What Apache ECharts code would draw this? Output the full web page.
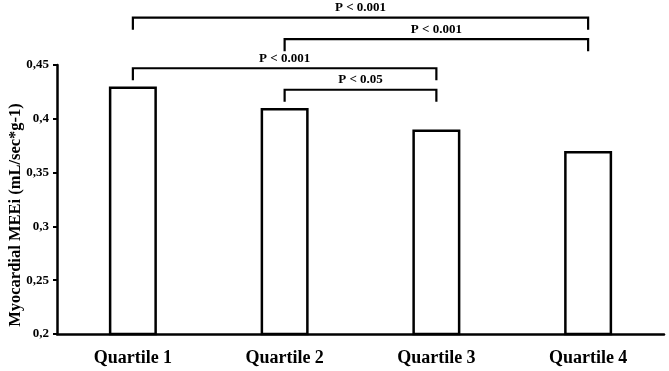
<!DOCTYPE html>
<html><head><meta charset="utf-8">
<script src="https://cdn.jsdelivr.net/npm/echarts@6/dist/echarts.min.js"></script>
<style>html,body{margin:0;padding:0;background:#fff}#c{width:669px;height:371px}</style>
</head><body><div id="c"></div>
<script>
const categories = ['Quartile 1', 'Quartile 2', 'Quartile 3', 'Quartile 4'];
const values = [0.43, 0.41, 0.39, 0.37];
const yTicks = [0.2, 0.25, 0.3, 0.35, 0.4, 0.45];
const bracketFrom = [0, 1, 0, 1];
const bracketTo = [3, 3, 2, 2];
const bracketLevel = [0.494, 0.474, 0.447, 0.427];
const bracketLabel = ['P < 0.001', 'P < 0.001', 'P < 0.001', 'P < 0.05'];

const brackets = bracketFrom.map((f, i) => [f, bracketTo[i], bracketLevel[i], i]);
const font = '"Liberation Serif", "Times New Roman", serif';

const chart = echarts.init(document.getElementById('c'), null, {renderer: 'canvas'});
chart.setOption({
  animation: false,
  backgroundColor: '#fff',
  grid: {left: 57, right: 5, top: 65, bottom: 37, containLabel: false, outerBoundsMode: 'none'},
  xAxis: {
    type: 'category', data: categories,
    axisLine: {lineStyle: {color: '#000', width: 2.5}},
    axisTick: {show: false},
    axisLabel: {color: '#000', fontFamily: font, fontWeight: 'bold', fontSize: 18, margin: 15}
  },
  yAxis: {
    type: 'value', min: 0.2, max: 0.45, interval: 0.05,
    name: 'Myocardial MEEi (mL/sec*g-1)', nameLocation: 'middle', nameGap: 33, nameMoveOverlap: false,
    nameTextStyle: {color: '#000', fontFamily: font, fontWeight: 'bold', fontSize: 16.5, padding: [0, 31, 0, 0]},
    axisLine: {show: true, lineStyle: {color: '#000', width: 2.5}},
    axisTick: {show: true, length: 4, lineStyle: {color: '#000', width: 2}},
    splitLine: {show: false},
    axisLabel: {color: '#000', fontFamily: font, fontWeight: 'bold', fontSize: 13, margin: 8,
      formatter: v => {
        const t = yTicks.find(x => Math.abs(x - v) < 1e-9);
        return String(+(t !== undefined ? t : v).toFixed(2)).replace('.', ',');
      }}
  },
  series: [{
    type: 'bar', data: values, barWidth: 48,
    itemStyle: {color: '#fff', borderColor: '#000', borderWidth: 2.5}
  }, {
    type: 'custom', clip: false, data: brackets,
    renderItem: (params, api) => {
      const p1 = api.coord([api.value(0), api.value(2)]);
      const p2 = api.coord([api.value(1), api.value(2)]);
      const drop = 12;
      const idx = api.value(3);
      return {
        type: 'group',
        children: [{
          type: 'polyline',
          shape: {points: [[p1[0], p1[1] + drop], [p1[0], p1[1]], [p2[0], p2[1]], [p2[0], p2[1] + drop]]},
          style: {stroke: '#000', lineWidth: 2.2, fill: null}
        }, {
          type: 'text',
          style: {text: bracketLabel[idx], x: (p1[0] + p2[0]) / 2, y: p1[1] - 10,
            align: 'center', verticalAlign: 'middle', fill: '#000',
            font: 'bold 13px ' + font}
        }]
      };
    }
  }]
});
</script></body></html>
